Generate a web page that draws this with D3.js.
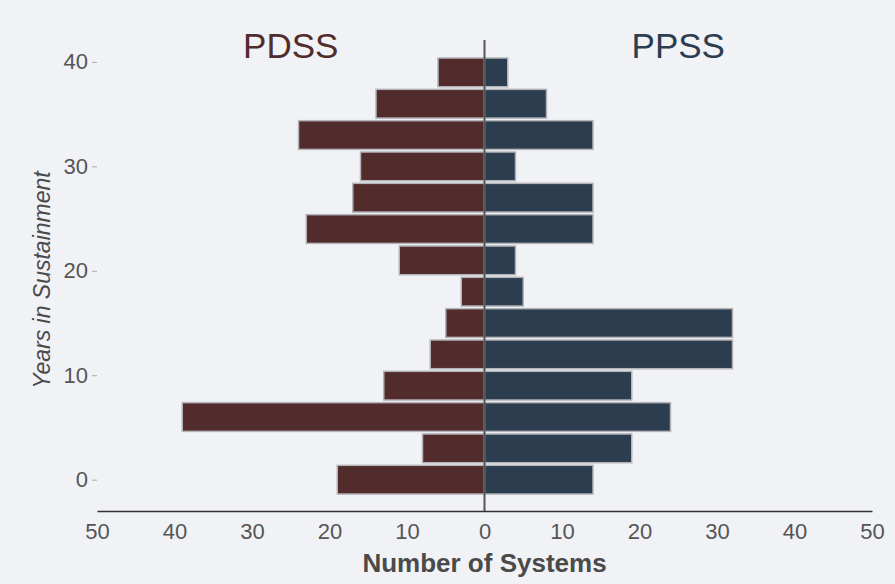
<!DOCTYPE html>
<html>
<head>
<meta charset="utf-8">
<script src="https://cdn.jsdelivr.net/npm/d3@7.9.0/dist/d3.min.js"></script>
<style>
  html, body { margin: 0; padding: 0; background: #f0f2f6; }
  svg { display: block; font-family: "Liberation Sans", Arial, sans-serif; }
</style>
</head>
<body>
<svg id="chart" width="895" height="584"></svg>
<script>
// Years in sustainment (bar centres) and counts per side
const years = [0, 3, 6, 9, 12, 15, 18, 21, 24, 27, 30, 33, 36, 39];
const pdss  = [19, 8, 39, 13, 7, 5, 3, 11, 23, 17, 16, 24, 14, 6];
const ppss  = [14, 19, 24, 19, 32, 32, 5, 4, 14, 14, 4, 14, 8, 3];
const xTicks = [-50, -40, -30, -20, -10, 0, 10, 20, 30, 40, 50];
const yTicks = [0, 10, 20, 30, 40];

const svg = d3.select("#chart");
const colPD = "#522c2c", colPP = "#2c3d50";
const font = "Liberation Sans, Arial, sans-serif";

// scales
const x = d3.scaleLinear().domain([-50, 50]).range([97, 872]);
const y = d3.scaleLinear().domain([-3, 42.1]).range([511, 40]);
const barH = y(0) - y(2.75);

const rows = years.map((yr, i) => ({ yr, pd: pdss[i], pp: ppss[i] }));

// left bars (PDSS)
svg.selectAll("rect.pd")
  .data(rows)
  .enter().append("rect")
  .attr("class", "pd")
  .attr("x", d => x(-d.pd))
  .attr("y", d => y(d.yr) - barH / 2)
  .attr("width", d => x(0) - x(-d.pd))
  .attr("height", barH)
  .attr("fill", colPD)
  .attr("stroke", "#b4b4b8")
  .attr("stroke-width", 1.5);

// right bars (PPSS)
svg.selectAll("rect.pp")
  .data(rows)
  .enter().append("rect")
  .attr("class", "pp")
  .attr("x", x(0))
  .attr("y", d => y(d.yr) - barH / 2)
  .attr("width", d => x(d.pp) - x(0))
  .attr("height", barH)
  .attr("fill", colPP)
  .attr("stroke", "#b4b4b8")
  .attr("stroke-width", 1.5);

// zero line
svg.append("line")
  .attr("x1", x(0)).attr("x2", x(0))
  .attr("y1", y(42.1)).attr("y2", y(-3))
  .attr("stroke", "#555").attr("stroke-width", 2);

// x axis
const xAxis = svg.append("g")
  .attr("transform", `translate(0,${y(-3)})`)
  .call(d3.axisBottom(x).tickValues(xTicks).tickFormat(d => Math.abs(d)).tickSize(0).tickPadding(12));
xAxis.select(".domain").attr("stroke", "#333").attr("stroke-width", 1.5);
xAxis.selectAll("text").attr("font-size", 22).attr("fill", "#555").attr("font-family", font);

// y axis
const yAxis = svg.append("g")
  .attr("transform", `translate(97,0)`)
  .call(d3.axisLeft(y).tickValues(yTicks).tickSize(5).tickPadding(4));
yAxis.select(".domain").remove();
yAxis.selectAll("line").attr("stroke", "#aaa");
yAxis.selectAll("text").attr("font-size", 22).attr("fill", "#555").attr("font-family", font);

// axis titles
svg.append("text")
  .attr("x", x(0)).attr("y", 572)
  .attr("text-anchor", "middle")
  .attr("font-size", 26).attr("font-weight", "bold").attr("fill", "#4a4a4a")
  .text("Number of Systems");

svg.append("text")
  .attr("transform", "translate(50,280) rotate(-90)")
  .attr("text-anchor", "middle")
  .attr("font-size", 23).attr("font-style", "italic").attr("fill", "#4a4a4a")
  .text("Years in Sustainment");

// side titles
svg.append("text")
  .attr("x", x(-25)).attr("y", 58)
  .attr("text-anchor", "middle")
  .attr("font-size", 35).attr("fill", colPD)
  .text("PDSS");

svg.append("text")
  .attr("x", x(25)).attr("y", 58)
  .attr("text-anchor", "middle")
  .attr("font-size", 35).attr("fill", colPP)
  .text("PPSS");
</script>
</body>
</html>
